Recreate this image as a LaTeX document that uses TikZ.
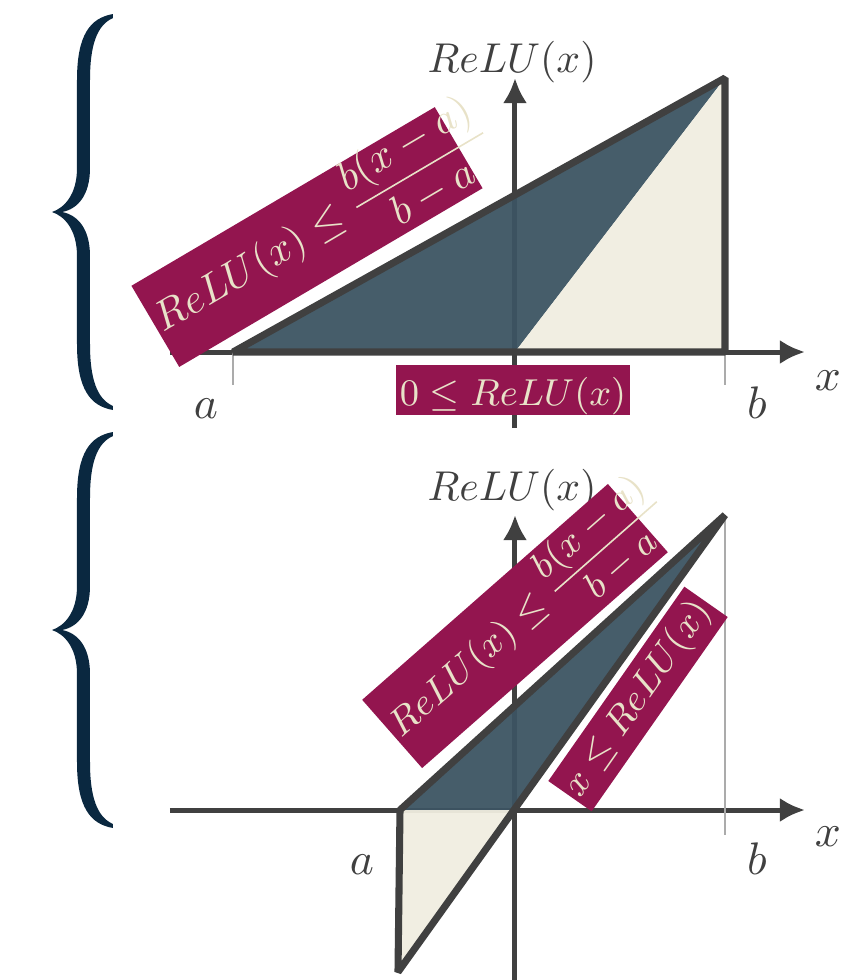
\documentclass[tikz,border=0pt]{standalone}
\usepackage{amsmath,amssymb}
\usepackage{xcolor}
\usepackage{tikz}
\usetikzlibrary{
    arrows.meta,
    calc
}
\definecolor{axisgray}{RGB}{64,64,64}
\definecolor{slateblue}{RGB}{60,84,98}
\definecolor{creamfill}{RGB}{240,237,224}
\definecolor{boundmagenta}{RGB}{147,21,79}
\definecolor{boundtext}{RGB}{232,226,200}
\definecolor{bracenavy}{RGB}{10,40,64}
\tikzset{
    axisline/.style={
        draw=axisgray,
        line width=1.2pt,
        ->,
        >={Latex[length=6pt,width=5.8pt]}
    }
}
\tikzset{
    hullline/.style={
        draw=axisgray,
        line width=1.7pt,
        line join=bevel
    }
}
\tikzset{
    guideline/.style={
        draw=black!33,
        line width=0.5pt
    }
}
\tikzset{
    upperregion/.style={
        fill=slateblue,
        fill opacity=0.95
    }
}
\tikzset{
    lowerregion/.style={
        fill=creamfill,
        fill opacity=0.95
    }
}
\tikzset{
    axislabel/.style={
        text=axisgray,
        font=\fontsize{11}{13}\selectfont,
        inner sep=0pt
    }
}
\tikzset{
    boundbox/.style={
        fill=boundmagenta,
        text=boundtext,
        font=\fontsize{9}{11}\selectfont,
        inner xsep=1pt,
        inner ysep=0pt
    }
}
\tikzset{
    bracefill/.style={
        fill=bracenavy
    }
}

\begin{document}
\begin{tikzpicture}[
    x=0.24pt,
    y=0.24pt
]
\useasboundingbox (0,0) rectangle (844,-980);

% ------------------------------------------------------------
% Braces grouping the two relaxations
% ------------------------------------------------------------

\foreach \dy in {0,-418} {
    \fill[bracefill, shift={(0,\dy)}]
        (52,-212) .. controls (64,-208) and (77,-195) .. (77,-168)
        -- (77,-80) .. controls (77,-35) and (90,-18) .. (113,-14)
        -- (113,-18) .. controls (97,-25) and (90,-45) .. (90,-80)
        -- (90,-168) .. controls (90,-195) and (78,-209) .. (62,-212)
        .. controls (78,-215) and (90,-229) .. (90,-256)
        -- (90,-344) .. controls (90,-379) and (97,-399) .. (113,-406)
        -- (113,-410) .. controls (90,-406) and (77,-389) .. (77,-344)
        -- (77,-256) .. controls (77,-229) and (64,-216) .. (52,-212)
        -- cycle;
}

% ------------------------------------------------------------
% Top panel: triangle relaxation
% ------------------------------------------------------------

\coordinate (o1) at (515,-352);
\coordinate (a1) at (233,-352);
\coordinate (b1) at (725,-352);
\coordinate (t1) at (725,-78);
\coordinate (xl1) at (170,-352);
\coordinate (xr1) at (805,-352);
\coordinate (yb1) at (515,-428);
\coordinate (yt1) at (515,-78);
\coordinate (at1) at (233,-385);
\coordinate (bt1) at (725,-385);

\draw[axisline] (xl1) -- (xr1);
\draw[axisline] (yb1) -- (yt1);
\fill[upperregion] (a1) -- (t1) -- (o1) -- cycle;
\fill[lowerregion] (o1) -- (t1) -- (b1) -- cycle;
\draw[guideline] (a1) -- (at1);
\draw[guideline] (b1) -- (bt1);
\draw[hullline] (a1) -- (t1) -- (b1) -- cycle;

\node[axislabel, anchor=base] (la1) at (206,-418) {$a$};
\node[axislabel, anchor=base] (lb1) at (757,-418) {$b$};
\node[axislabel, anchor=base] (lx1) at (828,-390) {$x$};
\node[axislabel, font=\fontsize{10}{12}\selectfont] (ly1) at (512,-62) {$ReLU(x)$};

\node[boundbox, font=\fontsize{9.6}{11}\selectfont, rotate=30.5,
      minimum width=84.5pt, minimum height=22.6pt,
      text height=4.8pt, text depth=0pt] (upper1) at (307,-237)
    {\makebox[82.5pt][l]{$ReLU(x)\le\dfrac{b(x-a)}{b-a}$}};
\node[boundbox, minimum width=51.6pt, minimum height=12pt,
      text height=7.2pt, text depth=0pt] (lower1) at (513,-390)
    {$0\le ReLU(x)$};

% ------------------------------------------------------------
% Bottom panel: relaxation with a < 0
% ------------------------------------------------------------

\coordinate (o2) at (515,-810);
\coordinate (a2) at (400,-810);
\coordinate (t2) at (725,-515);
\coordinate (c2) at (398,-972);
\coordinate (bt2) at (725,-835);
\coordinate (xl2) at (170,-810);
\coordinate (xr2) at (805,-810);
\coordinate (yb2) at (515,-985);
\coordinate (yt2) at (515,-515);

\draw[axisline] (xl2) -- (xr2);
\draw[axisline] (yb2) -- (yt2);
\fill[upperregion] (a2) -- (t2) -- (o2) -- cycle;
\fill[lowerregion] (a2) -- (o2) -- (c2) -- cycle;
\draw[guideline] (t2) -- (bt2);
\draw[hullline] (a2) -- (t2) -- (c2) -- cycle;

\node[axislabel, anchor=base] (la2) at (362,-874) {$a$};
\node[axislabel, anchor=base] (lb2) at (757,-874) {$b$};
\node[axislabel, anchor=base] (lx2) at (828,-846) {$x$};
\node[axislabel, font=\fontsize{10}{12}\selectfont] (ly2) at (512,-490) {$ReLU(x)$};

\node[boundbox, font=\fontsize{9.2}{11}\selectfont, rotate=41.3,
      minimum width=78.5pt, minimum height=21.8pt,
      text height=4.6pt, text depth=0pt] (upper2) at (515,-626)
    {\makebox[76.5pt][l]{$ReLU(x)\le\dfrac{b(x-a)}{b-a}$}};
\node[boundbox, rotate=55, minimum width=56.6pt, minimum height=12.7pt] (lower2) at (638,-699)
    {$x\le ReLU(x)$};

\end{tikzpicture}
\end{document}
